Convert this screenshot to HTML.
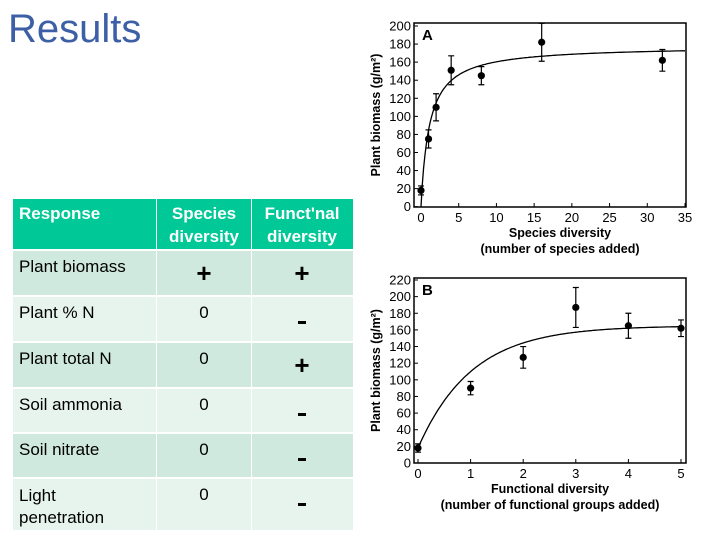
<!DOCTYPE html>
<html><head><meta charset="utf-8"><style>
body{margin:0;background:#fff;width:720px;height:540px;overflow:hidden;font-family:"Liberation Sans",sans-serif}
svg{display:block}
</style></head><body>
<svg id="s" width="720" height="540">
<text x="8" y="42" font-size="40" fill="#3c5fa6">Results</text>
<g id="table"></g>
<g id="chartA"></g>
<g id="chartB"></g>
</svg>
<script>
// Chart A data
const aX=[0,1,2,4,8,16,32];
const aY=[18,75,110,151,145,182,162];
const aErr=[5,10,15,16,10,21,12];
const aTicksX=[0,5,10,15,20,25,30,35];
const aTicksY=[0,20,40,60,80,100,120,140,160,180,200];
const aFit=[178,1.1]; // Vmax, K
// Chart B data
const bX=[0,1,2,3,4,5];
const bY=[18,90,127,187,165,162];
const bErr=[5,8,13,24,15,10];
const bTicksX=[0,1,2,3,4,5];
const bTicksY=[0,20,40,60,80,100,120,140,160,180,200,220];
const bFit=[18,147,1.02]; // base, amplitude, tau
// Table
const rows=[["Plant biomass","+","+"],["Plant % N","0","-"],["Plant total N","0","+"],["Soil ammonia","0","-"],["Soil nitrate","0","-"],["Light penetration","0","-"]];

const NS="http://www.w3.org/2000/svg";
function mk(p,t,a,txt){const e=document.createElementNS(NS,t);for(const k in a)e.setAttribute(k,a[k]);if(txt!==undefined)e.textContent=txt;p.appendChild(e);return e;}

// table
const tg=document.getElementById('table');
const cols=[[13,143],[157,94],[252,101]];
cols.forEach((c,i)=>{const r=mk(tg,'rect',{x:c[0],y:199,width:c[1],height:50,fill:'#00c896'});

});
let h1=mk(tg,'text',{x:19,y:219,'font-size':17,'font-weight':'bold',fill:'#fff'},'Response');

[["Species",204],["Funct'nal",302]].forEach((h,i)=>{
 const t=mk(tg,'text',{x:h[1],y:219,'font-size':17,'font-weight':'bold',fill:'#fff','text-anchor':'middle'},h[0]);
 
 const t2=mk(tg,'text',{x:h[1],y:242,'font-size':17,'font-weight':'bold',fill:'#fff','text-anchor':'middle'},'diversity');
 
});
const rowY=[251,297,343,389,434,479],rowH=[44,44,44,43,43,51];
rows.forEach((r,i)=>{
 const fill=i%2===0?'#cfe9df':'#e7f4ee';
 cols.forEach(c=>{const rc=mk(tg,'rect',{x:c[0],y:rowY[i],width:c[1],height:rowH[i],fill});
 });
 const y0=rowY[i];
 if(i===5){const t=mk(tg,'text',{x:19,y:y0+22,'font-size':17,fill:'#000'},'Light');
  const t2=mk(tg,'text',{x:19,y:y0+44,'font-size':17,fill:'#000'},'penetration');}
 else{const t=mk(tg,'text',{x:19,y:y0+21,'font-size':17,fill:'#000'},r[0]);}
 const v1=r[1]==='+'?mk(tg,'text',{x:204,y:y0+31,'font-size':26,'font-weight':'bold',fill:'#000','text-anchor':'middle'},'+'):mk(tg,'text',{x:204,y:y0+21,'font-size':17,fill:'#000','text-anchor':'middle'},'0');
 
 const v2=r[2]==='+'?mk(tg,'text',{x:302,y:y0+31,'font-size':26,'font-weight':'bold',fill:'#000','text-anchor':'middle'},'+'):mk(tg,'rect',{x:298,y:y0+24,width:8,height:3,fill:'#000'});
 
});

function chart(g,o){
 const sx=v=>o.x0+(v-o.xmin)/(o.xmax-o.xmin)*(o.x1-o.x0);
 const sy=v=>o.y0-(v/o.ymax)*(o.y0-o.y1);
 const box=mk(g,'rect',{x:o.bx,y:o.by,width:o.bw,height:o.bh,fill:'none',stroke:'#000','stroke-width':1.5});
 
 o.tx.forEach(v=>{const l=mk(g,'line',{x1:sx(v),x2:sx(v),y1:o.by+o.bh,y2:o.by+o.bh-4,stroke:'#000'});
  
  const t=mk(g,'text',{x:sx(v),y:o.by+o.bh+15,'font-size':13,'text-anchor':'middle',fill:'#000'},v);
  });
 o.ty.forEach(v=>{const l=mk(g,'line',{x1:o.bx,x2:o.bx+4,y1:sy(v),y2:sy(v),stroke:'#000'});
  
  const t=mk(g,'text',{x:o.bx-3,y:sy(v)+4.5,'font-size':13,'text-anchor':'end',fill:'#000'},v);
  });
 let d='';for(let i=0;i<=200;i++){const x=o.xmin+(o.xmax-o.xmin)*i/200;const y=o.f(x);d+=(i?'L':'M')+sx(x).toFixed(1)+','+sy(y).toFixed(1);}
 const p=mk(g,'path',{d,fill:'none',stroke:'#000','stroke-width':1.3});
 
 o.X.forEach((x,i)=>{
  const e=mk(g,'path',{d:`M${sx(x)},${sy(o.Y[i]-o.E[i])}V${sy(o.Y[i]+o.E[i])}M${sx(x)-3},${sy(o.Y[i]-o.E[i])}h6M${sx(x)-3},${sy(o.Y[i]+o.E[i])}h6`,stroke:'#000','stroke-width':1.2});
  
  const c=mk(g,'circle',{cx:sx(x),cy:sy(o.Y[i]),r:3.6,fill:'#000'});
  });
 const lb=mk(g,'text',{x:o.bx+8,y:o.by+17,'font-size':15,'font-weight':'bold'},o.label);
 
 const yt=mk(g,'text',{x:0,y:0,'font-size':12.5,'font-weight':'bold','text-anchor':'middle',transform:`translate(${o.bx-34},${o.by+o.bh/2}) rotate(-90)`},'Plant biomass (g/m²)');
 
 const x1=mk(g,'text',{x:o.xtx,y:o.by+o.bh+30,'font-size':12.5,'font-weight':'bold','text-anchor':'middle'},o.xt1);
 
 const x2=mk(g,'text',{x:o.xtx,y:o.by+o.bh+46,'font-size':12.5,'font-weight':'bold','text-anchor':'middle'},o.xt2);
 
}
chart(document.getElementById('chartA'),{x0:421,x1:685,xmin:0,xmax:35,y0:206.7,y1:26,ymax:200,bx:414,by:23,bw:272,bh:184,
 tx:aTicksX,ty:aTicksY,X:aX,Y:aY,E:aErr,f:x=>aFit[0]*x/(x+aFit[1]),label:'A',xtx:560,xt1:'Species diversity',xt2:'(number of species added)'});
chart(document.getElementById('chartB'),{x0:418,x1:681,xmin:0,xmax:5,y0:463,y1:280,ymax:220,bx:414,by:278,bw:272,bh:185,
 tx:bTicksX,ty:bTicksY,X:bX,Y:bY,E:bErr,f:x=>bFit[0]+bFit[1]*(1-Math.exp(-x/bFit[2])),label:'B',xtx:550,xt1:'Functional diversity',xt2:'(number of functional groups added)'});
</script>
</body></html>
